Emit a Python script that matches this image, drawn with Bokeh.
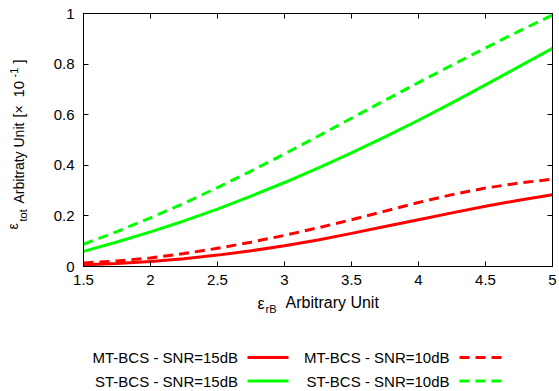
import math
from bokeh.plotting import figure
from bokeh.models import Range1d, FixedTicker, LinearAxis
from bokeh.layouts import column, row
from bokeh.embed import file_html
from bokeh.resources import INLINE
from bokeh.core.properties import value

# ---------------- data ----------------
eps_rB = [1.5, 1.75, 2.0, 2.25, 2.5, 2.75, 3.0, 3.25, 3.5, 3.75, 4.0, 4.25, 4.5, 4.75, 5.0]
mt_bcs_15dB = [0.007, 0.012, 0.020, 0.031, 0.045, 0.062, 0.082, 0.105, 0.131, 0.158, 0.185, 0.212, 0.238, 0.262, 0.284]
mt_bcs_10dB = [0.014, 0.022, 0.034, 0.051, 0.072, 0.096, 0.123, 0.153, 0.185, 0.219, 0.253, 0.284, 0.310, 0.330, 0.345]
st_bcs_15dB = [0.060, 0.097, 0.137, 0.180, 0.227, 0.278, 0.332, 0.389, 0.449, 0.512, 0.578, 0.647, 0.718, 0.790, 0.862]
st_bcs_10dB = [0.088, 0.138, 0.192, 0.250, 0.312, 0.377, 0.445, 0.515, 0.586, 0.657, 0.727, 0.796, 0.864, 0.930, 0.994]

x_ticks = [1.5, 2, 2.5, 3, 3.5, 4, 4.5, 5]
x_tick_labels = ["1.5", "2", "2.5", "3", "3.5", "4", "4.5", "5"]
y_ticks = [0, 0.2, 0.4, 0.6, 0.8, 1]
y_tick_labels = ["0", "0.2", "0.4", "0.6", "0.8", "1"]

series_labels = ["MT-BCS - SNR=15dB", "MT-BCS - SNR=10dB", "ST-BCS - SNR=15dB", "ST-BCS - SNR=10dB"]

RED = "#ff0000"
GREEN = "#00ff00"
FONT = "Liberation Sans"
DASH = "10 6"

W, H = 559, 391
TOP_H = 295      # height of the upper row (plot)
LEFT_W = 30      # width of the y-title strip
FRAME_TOP, FRAME_BOTTOM = 13, 266
SHIFT = 0.38     # rendered alphabetic baseline sits this many em lower; compensate

def fs_px(fs):
    return float(fs.replace("px", ""))

# ---------------- main plot ----------------
p = figure(width=W - LEFT_W, height=TOP_H, x_range=Range1d(1.5, 5), y_range=Range1d(0, 1),
           output_backend="svg", toolbar_location=None,
           min_border_left=83 - LEFT_W, min_border_right=7,
           min_border_top=FRAME_TOP, min_border_bottom=TOP_H - FRAME_BOTTOM)
p.grid.visible = False
p.outline_line_color = "black"
p.outline_line_width = 1
p.background_fill_color = "white"
p.border_fill_color = "white"

def style_axis(ax, ticks, labels, show_labels=True):
    ax.ticker = FixedTicker(ticks=ticks)
    ax.major_tick_in = 5
    ax.major_tick_out = 0
    ax.minor_tick_line_color = None
    ax.axis_line_color = "black"
    ax.major_tick_line_color = "black"
    ax.major_label_text_font = FONT
    ax.major_label_text_color = "black"
    if show_labels:
        ax.major_label_overrides = {float(t): l for t, l in zip(ticks, labels)}
        ax.major_label_text_font_size = "15px"
        ax.major_label_standoff = 8
    else:
        ax.major_label_overrides = {float(t): "" for t in ticks}
        ax.major_label_text_font_size = "1px"
        ax.major_label_standoff = 0

style_axis(p.xaxis[0], x_ticks, x_tick_labels)
style_axis(p.yaxis[0], y_ticks, y_tick_labels)
p.yaxis[0].major_label_standoff = 9

top_ax = LinearAxis()
style_axis(top_ax, x_ticks, x_tick_labels, show_labels=False)
p.add_layout(top_ax, "above")
right_ax = LinearAxis()
style_axis(right_ax, y_ticks, y_tick_labels, show_labels=False)
p.add_layout(right_ax, "right")

p.line(eps_rB, mt_bcs_15dB, line_color=RED, line_width=3)
p.line(eps_rB, mt_bcs_10dB, line_color=RED, line_width=3, line_dash=DASH)
p.line(eps_rB, st_bcs_15dB, line_color=GREEN, line_width=3)
p.line(eps_rB, st_bcs_10dB, line_color=GREEN, line_width=3, line_dash=DASH)

# ---------------- y-axis title strip: frame aligned with the plot frame ----------------
L = figure(width=LEFT_W, height=TOP_H,
           x_range=Range1d(0, LEFT_W), y_range=Range1d(TOP_H - FRAME_BOTTOM, TOP_H - FRAME_TOP),
           x_axis_type=None, y_axis_type=None, output_backend="svg", toolbar_location=None,
           min_border=0, min_border_left=0, min_border_right=0,
           min_border_top=FRAME_TOP, min_border_bottom=TOP_H - FRAME_BOTTOM)
L.grid.visible = False
L.outline_line_color = None
L.background_fill_color = "white"
L.border_fill_color = "white"

A = math.pi / 2
ytitle = [("ε", 18, 229, "14px"), ("tot", 27, 221, "11px"), ("Arbitraty Unit", 24, 203, "14px"),
          ("[×", 24, 117, "14px"), ("10", 24, 97, "15px"), ("-1", 18, 77, "11px"), ("]", 24, 63, "14px")]
for t, bx, cy, fs in ytitle:
    L.text(x=[bx - SHIFT * fs_px(fs)], y=[TOP_H - cy], text=[t], angle=A,
           text_align="left", text_baseline="alphabetic",
           text_font=value(FONT), text_font_size=fs, text_color="black")

# ---------------- x title + legend panel (page-pixel positions, y from top) ----------------
QH = H - TOP_H
q = figure(width=W, height=QH, x_range=Range1d(0, W), y_range=Range1d(0, QH),
           x_axis_type=None, y_axis_type=None, output_backend="svg", toolbar_location=None,
           min_border=0, min_border_left=0, min_border_right=0, min_border_top=0, min_border_bottom=0)
q.grid.visible = False
q.outline_line_color = None
q.background_fill_color = "white"
q.border_fill_color = "white"

def qy(cy):
    return H - cy

def qtext(t, x, base_y, fs, align="left"):
    q.text(x=[x], y=[qy(base_y - SHIFT * fs_px(fs))], text=[t], text_align=align,
           text_baseline="alphabetic", text_font=value(FONT), text_font_size=fs, text_color="black")

qtext("ε", 257, 309, "16px")
qtext("rB", 265, 313, "11px")
qtext("Arbitrary Unit", 285, 308, "16px")

for t, x, by in zip(series_labels, [237.5, 449, 237.5, 449], [363, 363, 387, 387]):
    qtext(t, x, by, "15px", align="right")

q.segment(x0=[247, 247], y0=[qy(357), qy(380.5)], x1=[288, 288], y1=[qy(357), qy(380.5)],
          line_color=[RED, GREEN], line_width=3)
q.segment(x0=[459, 459], y0=[qy(357), qy(380.5)], x1=[501, 501], y1=[qy(357), qy(380.5)],
          line_color=[RED, GREEN], line_width=3, line_dash=DASH)

layout = column(row(L, p, spacing=0), q, spacing=0)
open("out.html", "w").write(file_html(layout, INLINE))
